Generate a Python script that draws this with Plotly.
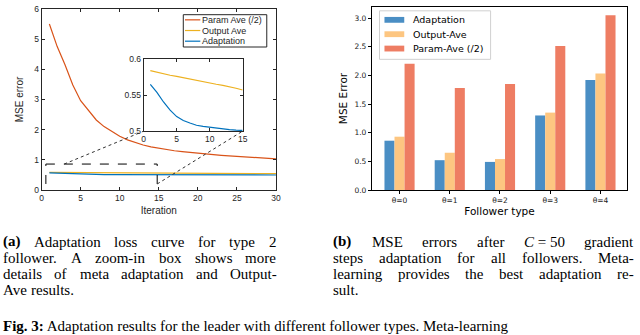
import re
import plotly.graph_objects as go

# ---------------- data ----------------
iterations = list(range(1, 31))
param_ave = [5.50, 4.75, 4.15, 3.48, 2.96, 2.62, 2.32, 2.10, 1.93, 1.78,
             1.66, 1.57, 1.49, 1.43, 1.38, 1.34, 1.30, 1.27, 1.24, 1.21,
             1.19, 1.17, 1.15, 1.13, 1.12, 1.10, 1.08, 1.07, 1.05, 1.03]
output_ave = [0.584, 0.5815, 0.5795, 0.5775, 0.576, 0.574, 0.572, 0.570, 0.5685, 0.567,
              0.565, 0.5635, 0.562, 0.5595, 0.557, 0.556, 0.555, 0.553, 0.552, 0.551,
              0.550, 0.548, 0.547, 0.546, 0.545, 0.544, 0.543, 0.542, 0.541, 0.540]
adaptation = [0.565, 0.5538, 0.5404, 0.5291, 0.5202, 0.5148, 0.5112, 0.5081, 0.5067, 0.5054,
              0.5045, 0.5036, 0.5022, 0.5013, 0.5009, 0.5005, 0.5002, 0.500, 0.4998, 0.4996,
              0.4994, 0.4992, 0.499, 0.4988, 0.4986, 0.4984, 0.4982, 0.498, 0.4978, 0.4976]
line_names = ["Param Ave (/2)", "Output Ave", "Adaptation"]

followers = ["θ=0", "θ=1", "θ=2", "θ=3", "θ=4"]
adapt_err = [0.86, 0.52, 0.49, 1.30, 1.92]
output_err = [0.93, 0.65, 0.54, 1.35, 2.03]
param_err = [2.20, 1.78, 1.85, 2.51, 3.05]
bar_names = ["Adaptation", "Output-Ave", "Param-Ave (/2)"]

left_xticks = [0, 5, 10, 15, 20, 25, 30]
left_yticks = [0, 1, 2, 3, 4, 5, 6]
inset_xticks = [0, 5, 10, 15]
inset_yticks = [0.5, 0.55, 0.6]
inset_yticklabels = ["0.5", "0.55", "0.6"]
right_yticks = [0.0, 0.5, 1.0, 1.5, 2.0, 2.5, 3.0]

cap_a = ["<b>(a)</b> Adaptation loss curve for type 2",
         "follower. A zoom-in box shows more",
         "details of meta adaptation and Output-",
         "Ave results."]
cap_b = ["<b>(b)</b> MSE errors after <i>C</i>\u00a0=\u00a050 gradient",
         "steps adaptation for all followers. Meta-",
         "learning provides the best adaptation re-",
         "sult."]
fig_line = "<b>Fig. 3:</b> Adaptation results for the leader with different follower types. Meta-learning"

# ---------------- styling ----------------
W, H = 640, 335
M_RED, M_YEL, M_BLU = "#D95319", "#EDB120", "#0072BD"
B_BLU, B_ORA, B_RED = "#4A8EC4", "#FDC681", "#EE7D63"
AX = "#262626"


def px_x(p):
    return p / W


def px_y(p):
    return 1 - p / H


main_dx = [px_x(40), px_x(277)]
main_dy = [px_y(190.7), px_y(4)]
inset_dx = [px_x(143.3), px_x(243.3)]
inset_dy = [px_y(130), px_y(55.7)]
right_dx = [px_x(374), px_x(632)]
right_dy = [px_y(190.7), px_y(2)]

fig = go.Figure()

line_cols = [M_RED, M_YEL, M_BLU]
for name, vals, col in zip(line_names, [param_ave, output_ave, adaptation], line_cols):
    fig.add_trace(go.Scatter(x=iterations, y=vals, mode="lines", name=name, showlegend=False,
                             line=dict(color=col, width=1.2), xaxis="x", yaxis="y"))

# inset (first 15 iterations of Output Ave and Adaptation)
for vals, col in zip([output_ave, adaptation], [M_YEL, M_BLU]):
    fig.add_trace(go.Scatter(x=iterations[:15], y=vals[:15], mode="lines", showlegend=False,
                             line=dict(color=col, width=1.2), xaxis="x3", yaxis="y3"))

bar_cols = [B_BLU, B_ORA, B_RED]
for name, vals, col in zip(bar_names, [adapt_err, output_err, param_err], bar_cols):
    fig.add_trace(go.Bar(x=followers, y=vals, name=name, showlegend=False,
                         marker=dict(color=col, line=dict(width=0)),
                         xaxis="x2", yaxis="y2"))

matlab_axis = dict(showline=True, linecolor=AX, linewidth=1, mirror="ticks", ticks="inside",
                   ticklen=3, tickcolor=AX, showgrid=False, zeroline=False,
                   tickfont=dict(family="Liberation Sans", size=8.5, color=AX))
mpl_axis = dict(showline=True, linecolor="black", linewidth=1, mirror=True, ticks="outside",
                ticklen=3, tickcolor="black", showgrid=False, zeroline=False,
                tickfont=dict(family="DejaVu Sans", size=7.5, color="#222"))

fig.update_layout(
    width=W, height=H, autosize=False,
    margin=dict(l=0, r=0, t=0, b=0),
    paper_bgcolor="white", plot_bgcolor="white",
    showlegend=False,
    barmode="group", bargap=0.4, bargroupgap=0,
    xaxis=dict(domain=main_dx, range=[0, 30], tickvals=left_xticks, anchor="y",
               title=dict(text="Iteration", font=dict(family="Liberation Sans", size=10, color=AX), standoff=4),
               **matlab_axis),
    yaxis=dict(domain=main_dy, range=[0, 6], tickvals=left_yticks, anchor="x",
               title=dict(text="MSE error", font=dict(family="Liberation Sans", size=10, color=AX), standoff=8),
               **matlab_axis),
    xaxis3=dict(domain=inset_dx, range=[0, 15], tickvals=inset_xticks, anchor="y3", **matlab_axis),
    yaxis3=dict(domain=inset_dy, range=[0.5, 0.6], tickvals=inset_yticks, ticktext=inset_yticklabels,
                anchor="x3", **matlab_axis),
    xaxis2=dict(domain=right_dx, range=[-0.55, 4.53], anchor="y2",
                title=dict(text="Follower type", font=dict(family="DejaVu Sans", size=10.5, color="black"), standoff=3),
                **mpl_axis),
    yaxis2=dict(domain=right_dy, range=[0, 3.193], tickvals=right_yticks, tickformat=".1f", anchor="x2",
                title=dict(text="MSE Error", font=dict(family="DejaVu Sans", size=10.5, color="black"), standoff=4),
                **mpl_axis),
)

# ---------------- legends (drawn as shapes + text) ----------------
fig.add_shape(type="rect", xref="paper", yref="paper", x0=px_x(183.3), x1=px_x(267.7),
              y0=px_y(43.3), y1=px_y(10), line=dict(color=AX, width=1), fillcolor="white", layer="above")
for k, (name, col) in enumerate(zip(line_names, line_cols)):
    yc = 15.3 + k * 11
    fig.add_shape(type="line", xref="paper", yref="paper", x0=px_x(185), x1=px_x(200.5),
                  y0=px_y(yc), y1=px_y(yc), line=dict(color=col, width=1.2), layer="above")
    fig.add_annotation(x=px_x(201.5), y=px_y(yc), xref="paper", yref="paper", text=name,
                       showarrow=False, xanchor="left", yanchor="middle", borderpad=0,
                       font=dict(family="Liberation Sans", size=9, color=AX))

fig.add_shape(type="rect", xref="paper", yref="paper", x0=px_x(381.7), x1=px_x(494),
              y0=px_y(56), y1=px_y(6), line=dict(color="#d0d0d0", width=1),
              fillcolor="rgba(255,255,255,0.8)", layer="above")
for k, (name, col) in enumerate(zip(bar_names, bar_cols)):
    yc = 15.3 + k * 14.8
    fig.add_shape(type="rect", xref="paper", yref="paper", x0=px_x(386.7), x1=px_x(406.7),
                  y0=px_y(yc + 3), y1=px_y(yc - 3), line=dict(width=0), fillcolor=col, layer="above")
    fig.add_annotation(x=px_x(414.5), y=px_y(yc), xref="paper", yref="paper", text=name,
                       showarrow=False, xanchor="left", yanchor="middle", borderpad=0,
                       font=dict(family="DejaVu Sans", size=9.5, color="black"))

# zoom box and connectors in the main axes
bx0, bx1, by0, by1 = 0.55, 14.8, 0.2, 0.86
dash = dict(color="black", width=1, dash="dash")
for x0, y0, x1, y1 in [(bx0, by1, bx1, by1), (bx0, by0, bx0, by1), (bx1, by0, bx1, by1)]:
    fig.add_shape(type="line", x0=x0, y0=y0, x1=x1, y1=y1, xref="x", yref="y", line=dash)


def paper_to_main(px, py):
    fx = (px - main_dx[0]) / (main_dx[1] - main_dx[0]) * 30
    fy = (py - main_dy[0]) / (main_dy[1] - main_dy[0]) * 6
    return fx, fy


ilx, ily = paper_to_main(inset_dx[0], inset_dy[0])
irx, iry = paper_to_main(inset_dx[1], inset_dy[0])
dot = dict(color="#333333", width=1, dash="dot")
fig.add_shape(type="line", x0=2.9, y0=by1, x1=ilx, y1=ily, xref="x", yref="y", line=dot)
fig.add_shape(type="line", x0=bx1, y0=by0, x1=irx, y1=iry, xref="x", yref="y", line=dot)

# ---------------- captions (justified by word placement) ----------------
REG = {' ': 250, '(': 333, ')': 333, ',': 250, '-': 333, '.': 250, '/': 278, ':': 278, '=': 564,
       'A': 722, 'C': 667, 'E': 611, 'F': 556, 'M': 889, 'O': 722, 'S': 556, '\u00a0': 250,
       'a': 444, 'b': 500, 'c': 444, 'd': 500, 'e': 444, 'f': 333, 'g': 500, 'h': 500, 'i': 278,
       'j': 278, 'k': 500, 'l': 278, 'm': 778, 'n': 500, 'o': 500, 'p': 500, 'q': 500, 'r': 333,
       's': 389, 't': 278, 'u': 500, 'v': 500, 'w': 722, 'x': 500, 'y': 500, 'z': 444}
BOLD = {'(': 333, ')': 333, 'a': 500, 'b': 556, 'F': 611, 'i': 278, 'g': 500, '.': 250, ':': 333, ' ': 250}
CAP_FS = 15


def tok_width(tok):
    bold = tok.startswith("<b>")
    plain = re.sub(r"<[^>]+>", "", tok)
    tot = 0
    for ch in plain:
        if ch.isdigit():
            tot += 500
        elif bold and ch in BOLD:
            tot += BOLD[ch]
        else:
            tot += REG.get(ch, 500)
    return tot * CAP_FS / 1000.0


def place_line(text, x_left, x_right, y_center, justify):
    toks = text.split(" ")
    widths = [tok_width(t) for t in toks]
    if justify and len(toks) > 1:
        gap = (x_right - x_left - sum(widths)) / (len(toks) - 1)
    else:
        gap = REG[' '] * CAP_FS / 1000.0
    x = x_left
    for t, w in zip(toks, widths):
        fig.add_annotation(x=px_x(x), y=px_y(y_center), xref="paper", yref="paper",
                           text=t, showarrow=False, xanchor="left", yanchor="middle",
                           borderpad=0, font=dict(family="Liberation Serif", size=CAP_FS, color="black"))
        x += w + gap


line_ys = [244, 260.7, 277.4, 294.1]
for i, (la, lb) in enumerate(zip(cap_a, cap_b)):
    last = i == len(cap_a) - 1
    place_line(la, 0, 276, line_ys[i], not last)
    place_line(lb, 334, 637, line_ys[i], not last)

fig.add_annotation(x=0, y=px_y(321.5), xref="paper", yref="paper", text=fig_line, showarrow=False,
                   xanchor="left", yanchor="top", borderpad=0,
                   font=dict(family="Liberation Serif", size=CAP_FS, color="black"))

fig.write_html("out.html", post_script="document.body.style.margin='0';",
               config={"displayModeBar": False})
